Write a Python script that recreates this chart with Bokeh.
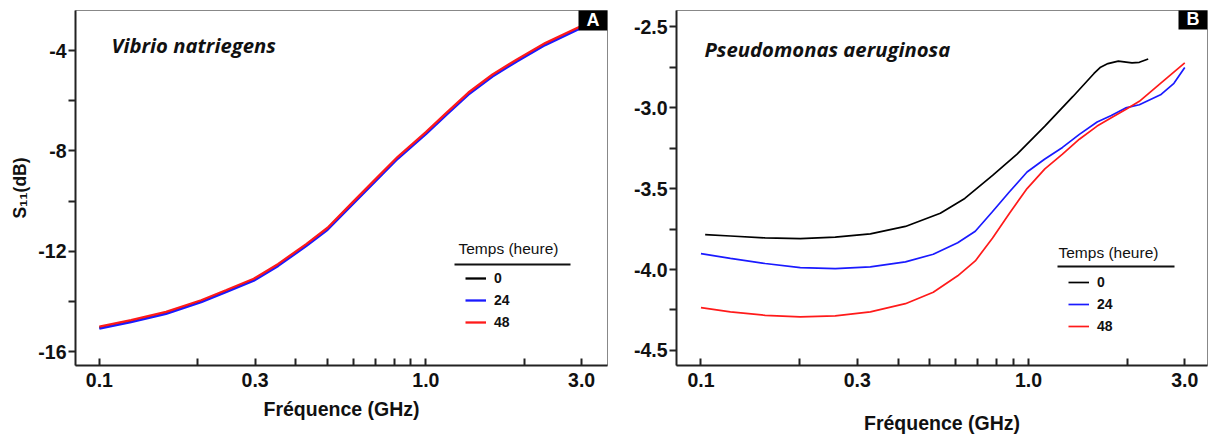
from bokeh.plotting import figure
from bokeh.layouts import row
from bokeh.models import (Range1d, FixedTicker, PrintfTickFormatter, Legend,
                          LegendItem, Label, BoxAnnotation)
from bokeh.embed import file_html
from bokeh.resources import INLINE

# ---------------- data ----------------
hours = ["0", "24", "48"]
colors = ["black", "#1a1aff", "#ff1a1a"]

# Panel A : Vibrio natriegens
freq_a = [0.1, 0.125, 0.16, 0.205, 0.244, 0.297, 0.353, 0.43, 0.5, 0.594,
          0.706, 0.82, 1.0, 1.16, 1.35, 1.6, 1.9, 2.32, 2.97]
s11_a_0 = [-15.04, -14.78, -14.45, -13.99, -13.59, -13.13, -12.54, -11.75, -11.10,
           -10.11, -9.12, -8.27, -7.29, -6.50, -5.71, -4.99, -4.39, -3.74, -3.08]
s11_a_24 = [-15.08, -14.82, -14.49, -14.03, -13.63, -13.17, -12.58, -11.79, -11.14,
            -10.15, -9.16, -8.31, -7.33, -6.54, -5.75, -5.03, -4.43, -3.78, -3.12]
s11_a_48 = [-15.00, -14.74, -14.41, -13.95, -13.55, -13.09, -12.50, -11.71, -11.06,
            -10.07, -9.08, -8.23, -7.25, -6.46, -5.67, -4.95, -4.35, -3.70, -3.04]

# Panel B : Pseudomonas aeruginosa
freq_b_0 = [0.103, 0.123, 0.157, 0.201, 0.257, 0.329, 0.421, 0.538, 0.639, 0.777,
            0.923, 1.122, 1.367, 1.585, 1.66, 1.748, 1.88, 2.07, 2.18, 2.32]
s11_b_0 = [-3.785, -3.793, -3.805, -3.809, -3.800, -3.780, -3.734, -3.652, -3.561,
           -3.419, -3.287, -3.114, -2.931, -2.789, -2.750, -2.728, -2.713, -2.724,
           -2.720, -2.700]
freq_b_24 = [0.1, 0.123, 0.157, 0.201, 0.257, 0.329, 0.421, 0.512, 0.608, 0.688,
             0.777, 0.875, 0.99, 1.122, 1.27, 1.43, 1.62, 1.79, 1.98, 2.18, 2.53,
             2.78, 3.0]
s11_b_24 = [-3.902, -3.931, -3.963, -3.988, -3.994, -3.984, -3.953, -3.906, -3.835,
            -3.764, -3.642, -3.520, -3.398, -3.317, -3.246, -3.165, -3.089, -3.049,
            -3.002, -2.982, -2.921, -2.850, -2.752]
freq_b_48 = [0.1, 0.123, 0.157, 0.201, 0.257, 0.329, 0.421, 0.512, 0.608, 0.688,
             0.777, 0.875, 0.99, 1.122, 1.27, 1.43, 1.62, 1.79, 1.98, 2.18, 2.53, 3.0]
s11_b_48 = [-4.236, -4.262, -4.283, -4.293, -4.287, -4.262, -4.211, -4.140, -4.039,
            -3.947, -3.805, -3.652, -3.500, -3.378, -3.287, -3.195, -3.114, -3.063,
            -3.012, -2.961, -2.850, -2.724]

x_major = [0.1, 0.3, 1.0, 3.0]
x_minor = [0.2, 0.4, 0.5, 0.6, 0.7, 0.8, 0.9, 2.0]
ya_major = [-4, -8, -12, -16]
ya_minor = [-6, -10, -14]
yb_major = [-2.5, -3.0, -3.5, -4.0, -4.5]
yb_minor = [-2.75, -3.25, -3.75, -4.25]

SANS = "Liberation Sans"
TITLE_FONT = "Open Sans"
AXC = "#222222"
TXT = "#111111"


def make_panel(width, height, xr, yr, border, ymaj, ymin, yfmt, ylabel, x_standoff,
               series, species, species_pos, letter, leg_pos, title_pos, uline, lw,
               top_bar=None):
    p = figure(width=width, height=height, x_axis_type="log",
               x_range=Range1d(*xr), y_range=Range1d(*yr),
               output_backend="svg", toolbar_location=None,
               min_border_left=border[0], min_border_right=border[1],
               min_border_top=border[2], min_border_bottom=border[3])
    p.xgrid.visible = False
    p.ygrid.visible = False
    p.outline_line_color = "#888888"
    p.outline_line_width = 1
    p.background_fill_color = "white"
    p.border_fill_color = "white"

    xa = p.xaxis[0]
    xa.ticker = FixedTicker(ticks=x_major, minor_ticks=x_minor)
    xa.formatter = PrintfTickFormatter(format="%.1f")
    xa.axis_label = "Fréquence (GHz)"
    ya = p.yaxis[0]
    ya.ticker = FixedTicker(ticks=ymaj, minor_ticks=ymin)
    ya.formatter = PrintfTickFormatter(format=yfmt)
    if ylabel:
        ya.axis_label = ylabel
    for ax in (xa, ya):
        ax.axis_line_color = AXC
        ax.axis_line_width = 2
        ax.major_tick_line_color = AXC
        ax.minor_tick_line_color = AXC
        ax.major_tick_line_width = 2
        ax.minor_tick_line_width = 2
        ax.major_label_text_font = SANS
        ax.major_label_text_font_style = "bold"
        ax.major_label_text_font_size = "19.5px"
        ax.major_label_text_color = TXT
        ax.axis_label_text_font = SANS
        ax.axis_label_text_font_style = "bold"
        ax.axis_label_text_color = TXT
    xa.axis_label_text_font_size = "19.5px"
    ya.axis_label_text_font_size = "17.5px"
    xa.major_tick_in = 7
    xa.major_tick_out = 0
    xa.minor_tick_in = 7
    xa.minor_tick_out = 0
    xa.major_label_standoff = 7
    xa.axis_label_standoff = x_standoff
    ya.major_tick_in = 0
    ya.major_tick_out = 7
    ya.minor_tick_in = 0
    ya.minor_tick_out = 7
    ya.major_label_standoff = 2
    ya.axis_label_standoff = 5

    rends = []
    for (fx, fy), c in zip(series, colors):
        rends.append(p.line(fx, fy, line_color=c, line_width=lw))

    leg = Legend(items=[LegendItem(label=h, renderers=[r]) for h, r in zip(hours, rends)],
                 location=leg_pos, orientation="vertical",
                 label_text_font=SANS, label_text_font_style="bold",
                 label_text_font_size="14px", label_text_color=TXT,
                 glyph_width=21, glyph_height=20, label_height=20, spacing=2,
                 padding=0, margin=0, label_standoff=8,
                 background_fill_alpha=0, border_line_alpha=0)
    p.add_layout(leg)

    p.add_layout(Label(x=title_pos[0], y=title_pos[1], x_units="screen", y_units="screen",
                       text="Temps (heure)", text_font=SANS, text_font_size="15.5px",
                       text_baseline="middle", text_align="left", text_color=TXT))
    p.add_layout(BoxAnnotation(left=uline[0], right=uline[1], bottom=uline[2] - 1,
                               top=uline[2] + 1, left_units="screen", right_units="screen",
                               bottom_units="screen", top_units="screen",
                               fill_color=TXT, fill_alpha=1, line_alpha=0))

    p.add_layout(Label(x=species_pos[0], y=species_pos[1], x_units="screen", y_units="screen",
                       text=species, text_font=TITLE_FONT, text_font_style="bold italic",
                       text_font_size="20.3px", text_baseline="middle", text_align="left",
                       text_color=TXT))

    fw = width - border[0] - border[1]
    fh = height - border[2] - border[3]
    if top_bar:
        p.add_layout(BoxAnnotation(left=0, right=top_bar, bottom=fh - 2, top=fh,
                                   left_units="screen", right_units="screen",
                                   bottom_units="screen", top_units="screen",
                                   fill_color="#222222", fill_alpha=1, line_alpha=0))
    p.add_layout(Label(x=fw, y=fh, x_units="screen", y_units="screen", text=letter,
                       text_font=SANS, text_font_style="bold", text_font_size="18px",
                       text_color="white", text_align="right", text_baseline="top",
                       background_fill_color="black", background_fill_alpha=1,
                       padding=(8, 1)))
    return p


H = 436
pA = make_panel(612, H, (0.0845, 3.60), (-16.55, -2.40), (75, 5, 9, H - 366),
                ya_major, ya_minor, "%d", "S\u2081\u2081(dB)", 8,
                [(freq_a, s11_a_0), (freq_a, s11_a_24), (freq_a, s11_a_48)],
                "Vibrio natriegens", (36, 321), "A",
                (390, 33), (383, 117), (379, 495, 101), 2.3)

pB = make_panel(596, H, (0.0842, 3.52), (-4.593, -2.40), (64, 1, 10, H - 368),
                yb_major, yb_minor, "%.1f", None, 22,
                [(freq_b_0, s11_b_0), (freq_b_24, s11_b_24), (freq_b_48, s11_b_48)],
                "Pseudomonas aeruginosa", (28, 317), "B",
                (392, 29), (382, 113), (381, 498, 99), 1.7, top_bar=184)

layout = row(pA, pB)
open("out.html", "w").write(file_html(layout, INLINE))
